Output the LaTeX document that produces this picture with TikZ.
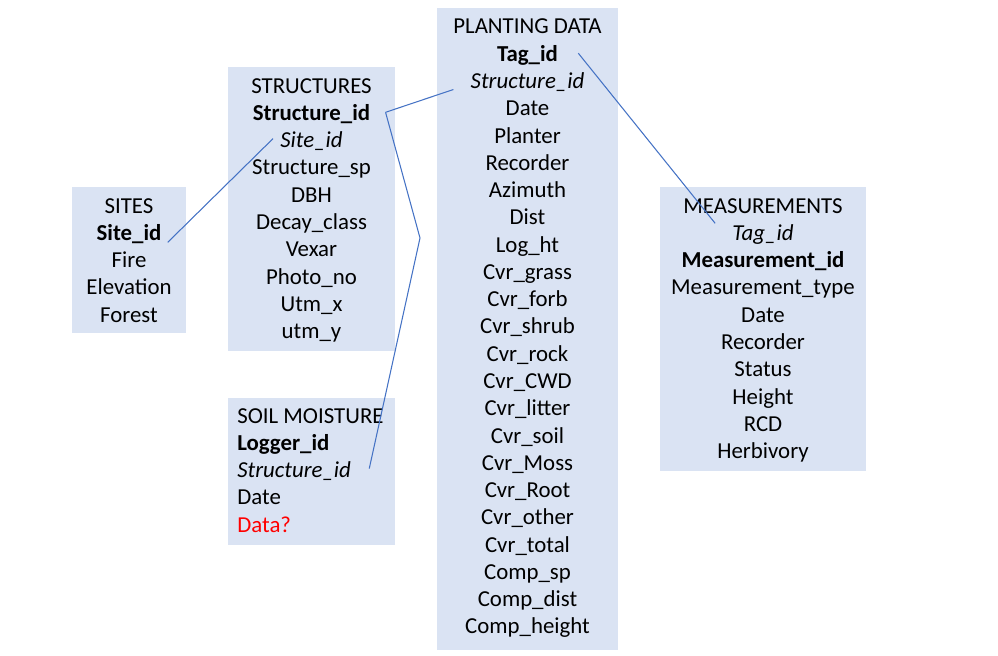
\documentclass[tikz,border=0pt]{standalone}
\usepackage{fontspec}
\setmainfont{Carlito}
\usetikzlibrary{positioning}
\definecolor{tblfill}{HTML}{DAE3F3}
\definecolor{linkblue}{HTML}{4472C4}

\begin{document}
\begin{tikzpicture}[x=0.02cm, y=-0.02cm,
    tablebox/.style={rectangle, fill=tblfill, inner sep=0pt},
    field/.style={inner sep=0pt, anchor=base, font=\fontsize{13}{15.4}\selectfont},
    lfield/.style={field, anchor=base west},
    link/.style={draw=linkblue, line width=0.6pt}
]
\useasboundingbox (0,0) rectangle (998,656);

% Tables
\node[tablebox, minimum width=2.28cm, minimum height=2.92cm] (sites) at (129,260) {};
\node[tablebox, minimum width=3.34cm, minimum height=5.68cm] (structures) at (311.5,209) {};
\node[tablebox, minimum width=3.34cm, minimum height=2.94cm] (soil) at (311.5,471.5) {};
\node[tablebox, minimum width=3.62cm, minimum height=12.84cm] (planting) at (527.5,329) {};
\node[tablebox, minimum width=4.12cm, minimum height=5.68cm] (meas) at (763,329) {};

% Fields
\foreach \t [count=\i] in {SITES, \textbf{Site\_id}, Fire, Elevation, Forest}
    \node[field] (si-\i) at (129, {185.7+27.3*\i}) {\t};

\foreach \t [count=\i] in {STRUCTURES, \textbf{Structure\_id}, \textit{Site\_id}, Structure\_sp, DBH,
    Decay\_class, Vexar, Photo\_no, Utm\_x, utm\_y}
    \node[field] (st-\i) at (311.5, {65.7+27.3*\i}) {\t};

\foreach \t [count=\i] in {SOIL MOISTURE, \textbf{Logger\_id}, \textit{Structure\_id}, Date,
    \textcolor{red}{Data?}}
    \node[lfield] (sm-\i) at (237, {395.7+27.3*\i}) {\t};

\foreach \t [count=\i] in {PLANTING DATA, \textbf{Tag\_id}, \textit{Structure\_id}, Date, Planter,
    Recorder, Azimuth, Dist, Log\_ht, Cvr\_grass, Cvr\_forb, Cvr\_shrub, Cvr\_rock, Cvr\_CWD,
    Cvr\_litter, Cvr\_soil, Cvr\_Moss, Cvr\_Root, Cvr\_other, Cvr\_total, Comp\_sp, Comp\_dist,
    Comp\_height}
    \node[field] (pd-\i) at (527.5, {6.7+27.27*\i}) {\t};

\foreach \t [count=\i] in {MEASUREMENTS, \textit{Tag\_id}, \textbf{Measurement\_id},
    Measurement\_type, Date, Recorder, Status, Height, RCD, Herbivory}
    \node[field] (me-\i) at (763, {185.7+27.3*\i}) {\t};

% Links
\coordinate (bend) at (420,238);
\draw[link] ([shift={(6,2)}]si-2.base east) -- ([shift={(-7,-9)}]st-3.base west);
\draw[link] ([shift={(15,-8)}]st-2.base east) -- ([shift={(-17,1)}]pd-3.base west);
\draw[link] ([shift={(18,-9)}]sm-3.base east) -- (bend) -- ([shift={(15,-8)}]st-2.base east);
\draw[link] ([shift={(20,-8)}]pd-2.base east) -- ([shift={(-17,-17)}]me-2.base west);

\end{tikzpicture}
\end{document}
